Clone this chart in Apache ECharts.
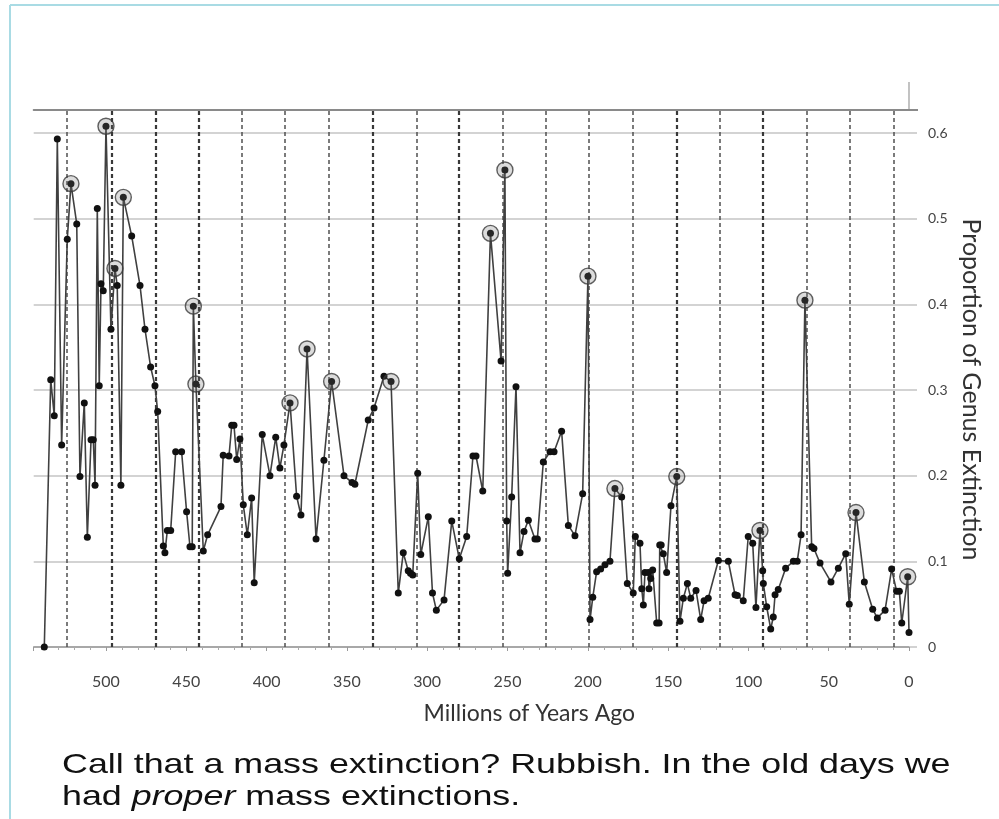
<!DOCTYPE html>
<html>
<head>
<meta charset="utf-8">
<script src="https://cdn.jsdelivr.net/npm/echarts/dist/echarts.min.js"></script>
<style>
  html, body { margin: 0; padding: 0; background: #fff; }
  #chart { width: 999px; height: 819px; }
</style>
</head>
<body>
<div id="chart"></div>
<script>
// millions of years ago
const ages = [538.4, 534.4, 532.2, 530.3, 527.6, 524.1, 521.8, 518.2, 516.2, 513.5,
  511.6, 509.3, 507.9, 506.8, 505.4, 504.2, 503.1, 501.7, 500.0, 496.9,
  494.4, 493.0, 490.7, 489.2, 484.0, 478.8, 475.7, 472.2, 469.5, 467.8,
  464.3, 463.3, 461.8, 459.7, 456.6, 452.9, 449.8, 447.7, 446.3, 445.6,
  444.0, 439.4, 436.7, 428.4, 427.0, 423.4, 421.7, 420.3, 418.6, 416.6,
  414.5, 412.0, 409.3, 407.7, 402.7, 397.9, 394.3, 391.7, 389.2, 385.4,
  381.3, 378.6, 374.8, 369.2, 364.3, 359.5, 351.8, 346.8, 345.0, 336.7,
  333.1, 326.9, 322.5, 318.0, 314.9, 311.8, 310.4, 309.0, 305.9, 304.0,
  299.3, 296.7, 294.3, 289.5, 284.7, 280.0, 275.4, 271.5, 269.6, 265.4,
  260.6, 254.0, 251.6, 250.5, 249.9, 247.4, 244.7, 242.2, 239.7, 237.0,
  232.9, 231.4, 227.7, 223.5, 221.0, 216.3, 212.1, 208.0, 203.2, 199.9,
  198.6, 196.9, 194.5, 192.0, 189.3, 186.2, 183.1, 178.9, 175.4, 171.7,
  170.4, 167.5, 166.4, 165.4, 164.4, 162.3, 161.9, 160.8, 159.6, 157.1,
  155.6, 155.2, 154.3, 153.0, 150.9, 148.2, 144.6, 142.6, 140.5, 138.0,
  135.9, 132.6, 129.7, 127.6, 125.0, 118.7, 112.5, 108.3, 106.9, 103.2,
  100.1, 97.3, 95.3, 92.8, 91.1, 90.7, 88.6, 86.1, 84.5, 83.4,
  81.4, 76.8, 72.0, 69.6, 67.2, 64.8, 60.6, 59.2, 55.4, 48.6,
  44.0, 39.4, 37.2, 33.0, 27.8, 22.6, 19.7, 14.9, 10.8, 7.7,
  6.0, 4.5, 0.8, 0.0];

// proportion of genus extinction
const extinction = [0, 0.312, 0.270, 0.593, 0.236, 0.476, 0.541, 0.494, 0.199, 0.285,
  0.128, 0.242, 0.242, 0.189, 0.512, 0.305, 0.424, 0.416, 0.608, 0.371,
  0.442, 0.422, 0.189, 0.525, 0.480, 0.422, 0.371, 0.327, 0.305, 0.275,
  0.118, 0.110, 0.136, 0.136, 0.228, 0.228, 0.158, 0.117, 0.117, 0.398,
  0.307, 0.112, 0.131, 0.164, 0.224, 0.223, 0.259, 0.259, 0.219, 0.243,
  0.166, 0.131, 0.174, 0.075, 0.248, 0.200, 0.245, 0.209, 0.236, 0.285,
  0.176, 0.154, 0.348, 0.126, 0.218, 0.310, 0.200, 0.192, 0.190, 0.265,
  0.279, 0.316, 0.310, 0.063, 0.110, 0.089, 0.086, 0.084, 0.203, 0.108,
  0.152, 0.063, 0.043, 0.055, 0.147, 0.103, 0.129, 0.223, 0.223, 0.182,
  0.483, 0.334, 0.557, 0.147, 0.086, 0.175, 0.304, 0.110, 0.135, 0.148,
  0.126, 0.126, 0.216, 0.228, 0.228, 0.252, 0.142, 0.130, 0.179, 0.433,
  0.032, 0.058, 0.088, 0.091, 0.096, 0.100, 0.185, 0.175, 0.074, 0.063,
  0.129, 0.121, 0.068, 0.049, 0.087, 0.087, 0.068, 0.080, 0.090, 0.028,
  0.028, 0.119, 0.119, 0.109, 0.087, 0.165, 0.199, 0.030, 0.057, 0.074,
  0.057, 0.066, 0.032, 0.054, 0.057, 0.101, 0.100, 0.061, 0.060, 0.054,
  0.129, 0.121, 0.046, 0.136, 0.089, 0.074, 0.047, 0.021, 0.035, 0.061,
  0.067, 0.092, 0.100, 0.100, 0.131, 0.405, 0.117, 0.115, 0.098, 0.076,
  0.092, 0.109, 0.050, 0.157, 0.076, 0.044, 0.034, 0.043, 0.091, 0.065,
  0.065, 0.028, 0.082, 0.017];

// the circled peaks
const peakAges = [521.8, 500.0, 494.4, 489.2, 445.6, 444.0, 385.4, 374.8, 359.5, 322.5,
  260.6, 251.6, 199.9, 183.1, 144.6, 92.8, 64.8, 33.0, 0.8];
const peakValues = [0.541, 0.608, 0.442, 0.525, 0.398, 0.307, 0.285, 0.348, 0.310, 0.310,
  0.483, 0.557, 0.433, 0.185, 0.199, 0.136, 0.405, 0.157, 0.082];

// dashed vertical lines
const boundaryAges = [524.3, 496.6, 469.2, 442.4, 415.3, 388.9, 361.5, 333.7, 306.4, 280.2,
  252.8, 226.0, 199.3, 172.2, 144.8, 117.7, 90.9, 63.8, 37.0, 9.7];
const heavyBoundaries = [496.6, 469.2, 442.4, 333.7, 280.2, 144.8, 90.9];

const xTicks = [0, 50, 100, 150, 200, 250, 300, 350, 400, 450, 500];

const chart = echarts.init(document.getElementById("chart"));

const seriesData = ages.map((a, i) => [a, extinction[i]]);
const peakData = peakAges.map((a, i) => [a, peakValues[i]]);
const boundaryLines = boundaryAges.map((a) => ({
  xAxis: a,
  lineStyle: {
    color: heavyBoundaries.includes(a) ? "#383838" : "#505050",
    width: heavyBoundaries.includes(a) ? 2.2 : 1.5,
    type: [4, 3],
  },
}));

const option = {
  backgroundColor: "#fff",
  animation: false,
  grid: { left: 33.7, right: 90, top: 110, bottom: 172 },
  xAxis: [
    {
      type: "value",
      min: 0,
      max: 545,
      interval: 50,
      inverse: true,
      name: "Millions of Years Ago",
      nameLocation: "middle",
      nameGap: 55,
      nameTextStyle: { fontFamily: "Lato", fontSize: 23, color: "#333", padding: [0, 0, 0, 116] },
      axisLine: { show: true, lineStyle: { color: "#9a9a9a", width: 1.5 } },
      axisTick: { show: true, length: 4, lineStyle: { color: "#9a9a9a" } },
      minorTick: { show: true, splitNumber: 5, length: 3, lineStyle: { color: "#aaa" } },
      splitLine: { show: false },
      axisLabel: {
        margin: 27,
        fontFamily: "Lato",
        fontSize: 16,
        color: "#444",
        showMaxLabel: false,
        formatter: (v) => (xTicks.includes(v) ? String(v) : ""),
      },
    },
    {
      type: "value",
      position: "top",
      min: 0,
      max: 545,
      inverse: true,
      axisLine: { show: true, lineStyle: { color: "#8a8a8a", width: 2 } },
      axisTick: { show: false },
      axisLabel: { show: false },
      splitLine: { show: false },
    },
  ],
  yAxis: {
    type: "value",
    position: "right",
    min: 0,
    max: 0.627,
    interval: 0.1,
    name: "Proportion of Genus Extinction",
    nameLocation: "middle",
    nameRotate: -90,
    nameGap: 47,
    nameTextStyle: { fontFamily: "Lato", fontSize: 25, color: "#333", padding: [0, 0, 0, 22] },
    axisLine: { show: false },
    axisTick: { show: true, length: 8, lineStyle: { color: "#c4c4c4", width: 1.5 } },
    splitLine: { show: true, lineStyle: { color: "#c4c4c4", width: 1.5 } },
    axisLabel: {
      margin: 19,
      fontFamily: "Lato",
      fontSize: 14,
      color: "#444",
      showMaxLabel: false,
      formatter: (v) => (v === 0 ? "0" : v.toFixed(1)),
    },
  },
  series: [
    {
      name: "extinction",
      type: "line",
      data: seriesData,
      symbol: "circle",
      symbolSize: 7,
      lineStyle: { color: "#404040", width: 1.6 },
      itemStyle: { color: "#111" },
      z: 3,
      markLine: {
        silent: true,
        symbol: ["none", "none"],
        label: { show: false },
        data: boundaryLines,
        z: 1,
      },
    },
    {
      name: "peaks",
      type: "scatter",
      data: peakData,
      symbol: "circle",
      symbolSize: 16,
      itemStyle: {
        color: "rgba(110,110,110,0.3)",
        borderColor: "#3a3a3a",
        borderWidth: 1.4,
      },
      z: 4,
    },
  ],
  graphic: [
    {
      type: "line",
      shape: { x1: 10, y1: 5, x2: 999, y2: 5 },
      style: { stroke: "#a9dbe4", lineWidth: 2 },
    },
    {
      type: "line",
      shape: { x1: 10, y1: 5, x2: 10, y2: 819 },
      style: { stroke: "#a9dbe4", lineWidth: 2 },
    },
    {
      type: "line",
      shape: { x1: 909, y1: 82, x2: 909, y2: 110 },
      style: { stroke: "#9a9a9a", lineWidth: 1.2 },
    },
    {
      type: "line",
      shape: { x1: 908, y1: 110, x2: 918, y2: 110 },
      style: { stroke: "#8a8a8a", lineWidth: 2 },
    },
    {
      type: "text",
      x: 62,
      y: 749,
      scaleX: 1.28,
      style: {
        text: "Call that a mass extinction? Rubbish. In the old days we\nhad {i|proper} mass extinctions.",
        fontFamily: "Liberation Sans",
        fontSize: 28,
        lineHeight: 32,
        fill: "#111",
        rich: {
          i: { fontStyle: "italic", fontFamily: "Liberation Sans", fontSize: 28, lineHeight: 32, fill: "#111" },
        },
      },
    },
  ],
};

chart.setOption(option);
</script>
</body>
</html>
